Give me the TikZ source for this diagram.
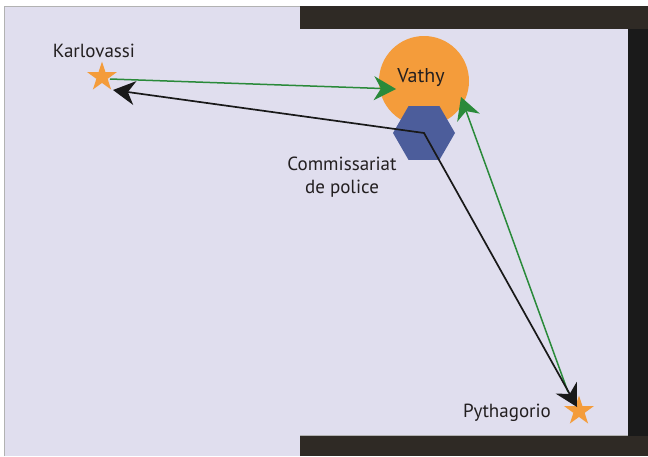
\documentclass[tikz,border=0pt]{standalone}
\usepackage{fontspec}
\setmainfont{PT Sans}
\usetikzlibrary{shapes.geometric,arrows.meta}
\definecolor{lav}{HTML}{E0DEEE}
\definecolor{barc}{HTML}{2F2A25}
\definecolor{barr}{HTML}{1A1A1A}
\definecolor{orng}{HTML}{F49C3B}
\definecolor{hexb}{HTML}{4C5D9B}
\definecolor{grn}{HTML}{2A8A3A}
\definecolor{txt}{HTML}{231F20}
\begin{document}
\begin{tikzpicture}[x=1pt,y=-1pt,
  town/.style={star,star points=5,star point ratio=2.618,minimum size=31pt,inner sep=0pt,fill=orng,draw=none},
  lbl/.style={text=txt,font=\fontsize{19}{23}\selectfont,inner sep=0pt,align=center},
  big/.style={-{Stealth[length=22pt,width=24pt,inset=7pt]}},
  gline/.style={big,draw=grn,fill=grn,line width=1.5pt},
  bline/.style={draw=black!90,line width=1.7pt}]
\useasboundingbox (0,0) rectangle (648,456);
\fill[white] (0,0) rectangle (648,456);
\fill[lav] (4,6) rectangle (648,456);
\draw[black!30,line width=0.9pt] (4.5,456) -- (4.5,6.5) -- (648,6.5);
\fill[barc] (300,6) rectangle (648,29);
\fill[barr] (628,29) rectangle (648,436);
\draw[black!30,line width=0.9pt] (300,435.5) -- (628,435.5);
\fill[barc] (300,436) rectangle (648,456);

\node[circle,fill=orng,minimum size=90pt,inner sep=0pt] (vathy) at (424,81) {};
\node[regular polygon,regular polygon sides=6,fill=hexb,minimum size=62pt,inner sep=0pt] (hex) at (424,133) {};
\node[lbl,font=\fontsize{20}{23}\selectfont] (vathyl) at (421,78) {Vathy};
\node[town] (kstar) at (102,77) {};
\node[lbl] (kl) at (94,51) {Karlovassi};
\node[town] (pstar) at (579,411) {};
\node[lbl] (pl) at (507,413) {Pythagorio};
\node[lbl] (cl) at (342,177) {Commissariat\\de police};

\coordinate (g1s) at (110,79);
\coordinate (g1e) at (396,89);
\coordinate (g2s) at (568,392);
\coordinate (g2e) at (461,97);
\coordinate (kt) at (113,90);
\coordinate (pt) at (577,407);

\draw[gline] (g1s) -- (g1e);
\draw[gline] (g2s) -- (g2e);
\draw[bline,{Stealth[length=22pt,width=24pt,inset=7pt]}-{Stealth[length=22pt,width=24pt,inset=7pt]}] (kt) -- (hex.center) -- (pt);
\end{tikzpicture}
\end{document}
